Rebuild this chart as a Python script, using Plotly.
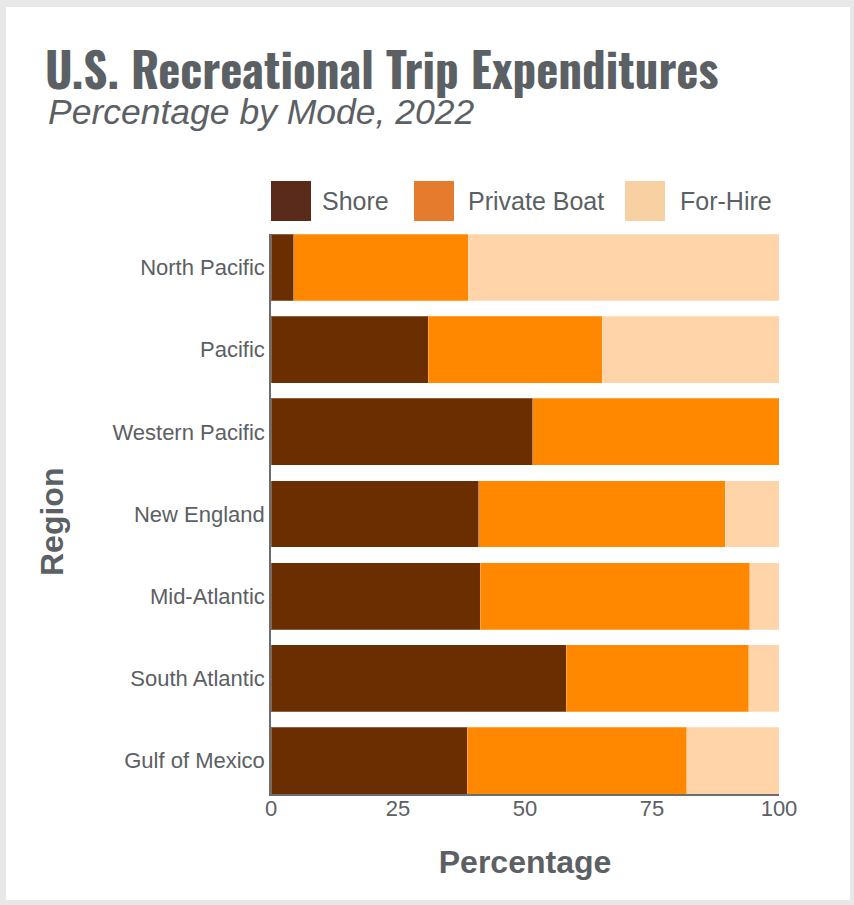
import plotly.graph_objects as go

# ---- data ----
regions = ["North Pacific", "Pacific", "Western Pacific", "New England",
           "Mid-Atlantic", "South Atlantic", "Gulf of Mexico"]
shore = [4.5, 31.0, 51.5, 40.9, 41.2, 58.1, 38.6]
private_boat = [34.3, 34.2, 48.5, 48.5, 53.0, 35.9, 43.2]
for_hire = [61.2, 34.8, 0.0, 10.6, 5.8, 6.0, 18.2]
series_names = ["Shore", "Private Boat", "For-Hire"]
bar_colors = ["#6a2e00", "#ff8800", "#fed4a8"]
legend_colors = ["#5a2b1b", "#e57b2c", "#f7d1a1"]
x_ticks = [0, 25, 50, 75, 100]

# ---- geometry helpers (pixels -> paper) ----
W, H = 854, 905
L, R, T, B = 271, 75, 234, 111
PW, PH = W - L - R, H - T - B


def px(x):
    return (x - L) / PW


def py(y):
    return (H - B - y) / PH


TXT = "#5b6064"

fig = go.Figure()
for name, vals, col in zip(series_names, [shore, private_boat, for_hire], bar_colors):
    fig.add_trace(go.Bar(
        y=regions, x=vals, name=name, orientation="h",
        marker=dict(color=col, line=dict(color="rgba(255,255,255,0.25)", width=1)),
        showlegend=False,
    ))

shapes = [
    # outer frame: white card on light gray
    dict(type="rect", xref="paper", yref="paper", layer="below",
         x0=px(6), x1=px(850), y0=py(900), y1=py(7),
         fillcolor="white", line=dict(width=0)),
]
annotations = [
    dict(text="U.S. Recreational Trip Expenditures", xref="paper", yref="paper",
         x=px(43), y=py(68), xanchor="left", yanchor="middle", showarrow=False,
         font=dict(family="Oswald, Roboto Condensed, sans-serif", size=47, color=TXT,
                   weight="bold")),
    dict(text="<i>Percentage by Mode, 2022</i>", xref="paper", yref="paper",
         x=px(46), y=py(112), xanchor="left", yanchor="middle", showarrow=False,
         font=dict(family="Liberation Sans", size=35.5, color=TXT)),
    dict(text="<b>Region</b>", xref="paper", yref="paper", textangle=-90,
         x=px(52), y=py(522), xanchor="center", yanchor="middle", showarrow=False,
         font=dict(family="Liberation Sans", size=32, color=TXT)),
]

# custom legend with large square swatches
sw_x = [271, 414, 625]
txt_x = [320, 466, 678]
for name, col, x0, xt in zip(series_names, legend_colors, sw_x, txt_x):
    shapes.append(dict(type="rect", xref="paper", yref="paper",
                       x0=px(x0), x1=px(x0 + 40), y0=py(221), y1=py(181),
                       fillcolor=col, line=dict(width=0)))
    annotations.append(dict(text=name, xref="paper", yref="paper",
                            x=px(xt), y=py(201), xanchor="left", yanchor="middle",
                            showarrow=False,
                            font=dict(family="Liberation Sans", size=25, color=TXT)))

fig.update_layout(
    width=W, height=H,
    margin=dict(l=L, r=R, t=T, b=B),
    barmode="stack", bargap=0.185,
    paper_bgcolor="#e8e8e8", plot_bgcolor="rgba(0,0,0,0)",
    font=dict(family="Liberation Sans", color=TXT),
    shapes=shapes, annotations=annotations,
    xaxis=dict(range=[0, 100], tickvals=x_ticks, ticks="", showgrid=False, zeroline=False,
               showline=True, linecolor="#6a6e72", linewidth=1.5,
               ticklabelstandoff=-6,
               tickfont=dict(size=22, color=TXT),
               title=dict(text="<b>Percentage</b>", font=dict(size=32, color=TXT), standoff=30)),
    yaxis=dict(categoryorder="array", categoryarray=regions[::-1],
               range=[-0.4075, 6.4075], ticks="", showgrid=False, zeroline=False,
               showline=True, linecolor="#6a6e72", linewidth=1.5,
               ticklabelstandoff=0,
               tickfont=dict(size=22, color=TXT)),
)

fig.write_html("out.html", config={"displayModeBar": False},
               post_script="document.body.style.margin='0';")
